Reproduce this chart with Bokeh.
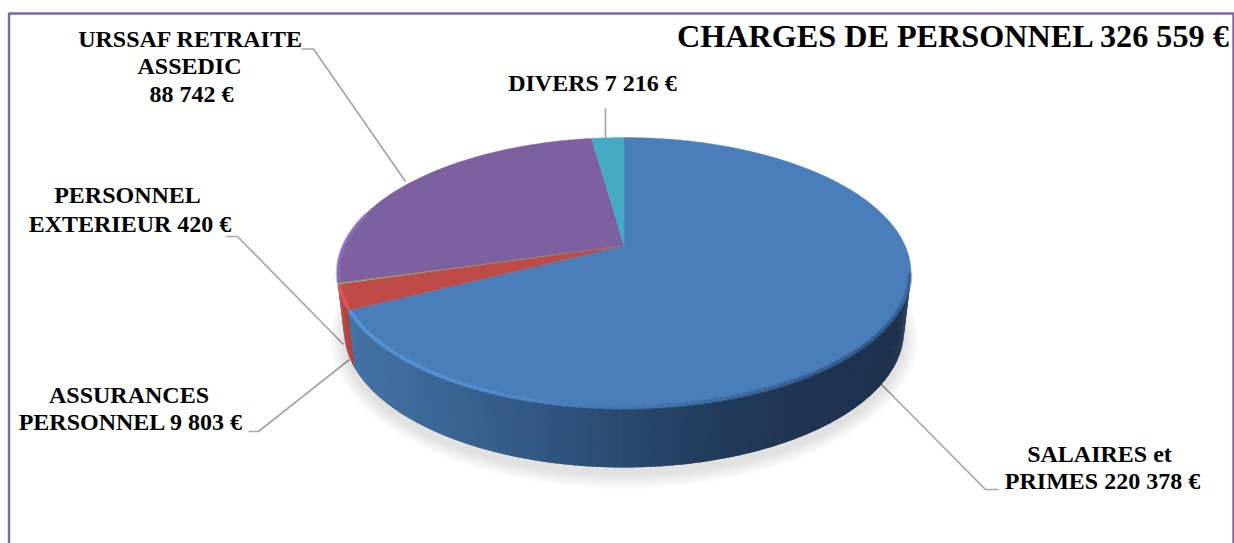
import numpy as np
from bokeh.plotting import figure
from bokeh.models import Range1d
from bokeh.core.properties import value
from bokeh.embed import file_html
from bokeh.resources import INLINE

# ---- data ----
categories = ["SALAIRES et PRIMES", "ASSURANCES PERSONNEL", "PERSONNEL EXTERIEUR", "URSSAF RETRAITE ASSEDIC", "DIVERS"]
values = [220378, 9803, 420, 88742, 7216]
top_colors = ["#4A7EBB", "#BE4B48", "#98B855", "#7D60A0", "#46AAC4"]
bevel_colors = ["#5B9BDC", "#DB5C58", "#A8CC60", "#8E6FB8", "#55C0DA"]
wall_colors = ["#3A6491", "#B03F3C", "#7F9A45", "#6A5088", "#3A90A8"]
title = "CHARGES DE PERSONNEL 326 559 €"

label_lines = ["URSSAF RETRAITE", "ASSEDIC", "88 742 €", "DIVERS 7 216 €", "PERSONNEL", "EXTERIEUR 420 €",
               "ASSURANCES", "PERSONNEL 9 803 €", "SALAIRES et", "PRIMES 220 378 €"]
label_x = [190, 189, 191, 592, 127, 129.5, 128.5, 130.5, 1099, 1102]
label_y = [47, 74, 102, 91, 203, 232, 403, 430, 462, 489]

leaders_x = [[301, 313, 405], [605, 605], [226, 237, 343], [248, 258, 349], [998, 985, 880]]
leaders_y = [[48.5, 48.5, 181], [108, 137], [236, 236, 344], [431, 431, 359], [489, 489, 383]]

# ---- pie geometry (pixel space, perspective disc) ----
CX, APEX_Y = 623.5, 245.0
K, A, R = 0.203, 129.9, 281.0
TOP_CY, TOP_RX, TOP_RY = 272.5, 287.0, 135.5
BOT_CY, BOT_RX, BOT_RY = 330.0, 280.0, 137.0
LABEL_SHIFT, TITLE_SHIFT = -8.5, -10.0


def rim(theta_deg):
    t = np.radians(np.asarray(theta_deg, dtype=float))
    d = 1 + K * np.cos(t)
    return CX + R * np.sin(t) / d, APEX_Y - A * np.cos(t) / d


def base(x, y):
    return CX + (x - CX) * BOT_RX / TOP_RX, BOT_CY + (y - TOP_CY) * BOT_RY / TOP_RY


def inset(x, y):
    return CX + (x - CX) * 0.996, TOP_CY + (y - TOP_CY) * 0.991


edges = np.concatenate([[0], np.cumsum(values)]) / sum(values) * 360.0

p = figure(width=1234, height=543, output_backend="svg", toolbar_location=None,
           x_range=Range1d(0, 1234), y_range=Range1d(543, 0),
           min_border=0, outline_line_color=None, background_fill_color="white")
p.axis.visible = False
p.grid.visible = False

# frame
p.line([8.5, 8.5, 1233, 1233], [543, 13, 13, 543], line_color="#8064A2", line_width=2.4)

# leaders go under the pie
p.multi_line(leaders_x, leaders_y, line_color="#A6A6A6", line_width=1.7)

# soft shadow
for e in np.arange(15, 0, -1.0):
    p.ellipse([CX], [BOT_CY + 7], width=2 * (BOT_RX + e), height=2 * (BOT_RY + e),
              fill_color="black", fill_alpha=0.009, line_color=None)

# side wall, shaded by horizontal position
stops_x = [336, 353, 450, 550, 623, 700, 800, 911]
stops_r = [0x48, 0x43, 0x3A, 0x30, 0x2A, 0x24, 0x20, 0x1E]
stops_g = [0x78, 0x72, 0x65, 0x55, 0x4A, 0x3E, 0x35, 0x32]
stops_b = [0xA8, 0xA4, 0x93, 0x80, 0x70, 0x5F, 0x52, 0x4D]


def shade(x):
    return "#%02X%02X%02X" % (int(np.interp(x, stops_x, stops_r)),
                              int(np.interp(x, stops_x, stops_g)),
                              int(np.interp(x, stops_x, stops_b)))


wall_start = np.degrees(np.arccos(-K))
wall_end = 360 - wall_start
ths = np.arange(wall_end, wall_start - 0.75, -0.75)
xs_wall, ys_wall, cols_wall = [], [], []
for a0, a1 in zip(ths[:-1], ths[1:]):
    a2 = max(a1 - 0.5, wall_start)
    xt, yt = rim([a0, a2])
    xb, yb = base(xt, yt)
    xs_wall.append([xt[0], xt[1], xb[1], xb[0]])
    ys_wall.append([yt[0], yt[1], yb[1], yb[0]])
    mid = (a0 + a1) / 2
    if mid >= edges[3]:
        cols_wall.append(wall_colors[3])
    elif mid >= edges[2]:
        cols_wall.append(wall_colors[2])
    elif mid >= edges[1]:
        cols_wall.append(wall_colors[1])
    else:
        cols_wall.append(shade(rim(mid)[0]))
p.patches(xs_wall, ys_wall, fill_color=cols_wall, line_color=None)

# top face: one wedge per value
for i in range(len(values)):
    th = np.linspace(edges[i], edges[i + 1], max(3, int(edges[i + 1] - edges[i]) * 2))
    x, y = rim(th)
    p.patch(np.r_[CX, x], np.r_[APEX_Y, y], fill_color=top_colors[i], line_color=top_colors[i], line_width=0.4)

# bevel along the rim
rim_t = [101.7, 130, 155, 180, 205, 243.1]
rim_r = [0x3A, 0x30, 0x36, 0x44, 0x56, 0x5B]
rim_g = [0x66, 0x55, 0x60, 0x78, 0x92, 0x9C]
rim_b = [0x9C, 0x84, 0x92, 0xB4, 0xD8, 0xDE]
bx, by, bc = [], [], []
th = np.arange(101.7, 243.0, 1.0)
for a0, a1 in zip(th[:-1], th[1:]):
    x, y = inset(*rim([a0 - 0.2, a1 + 0.2]))
    bx.append(list(x))
    by.append(list(y))
    bc.append("#%02X%02X%02X" % (int(np.interp(a0, rim_t, rim_r)), int(np.interp(a0, rim_t, rim_g)),
                                 int(np.interp(a0, rim_t, rim_b))))
for i in (1, 3):
    th = np.arange(edges[i] + 0.3, (edges[i + 1] if i == 1 else 285) - 0.2, 1.0)
    for a0, a1 in zip(th[:-1], th[1:]):
        x, y = inset(*rim([a0 - 0.2, a1 + 0.2]))
        bx.append(list(x))
        by.append(list(y))
        bc.append(bevel_colors[i])
p.multi_line(bx, by, line_color=bc, line_width=5, line_alpha=0.3)
p.multi_line(bx, by, line_color=bc, line_width=2.4, line_alpha=0.75)

# texts
p.text(label_x, [v + LABEL_SHIFT for v in label_y], text=label_lines, text_font=value("Liberation Serif"),
       text_font_style="bold", text_font_size="24px", text_color="black", text_align="center",
       text_baseline="alphabetic")
p.text([1230], [45 + TITLE_SHIFT], text=[title], text_font=value("Liberation Serif"), text_font_style="bold",
       text_font_size="32.2px", text_color="black", text_align="right", text_baseline="alphabetic")

open("out.html", "w").write(file_html(p, INLINE))
